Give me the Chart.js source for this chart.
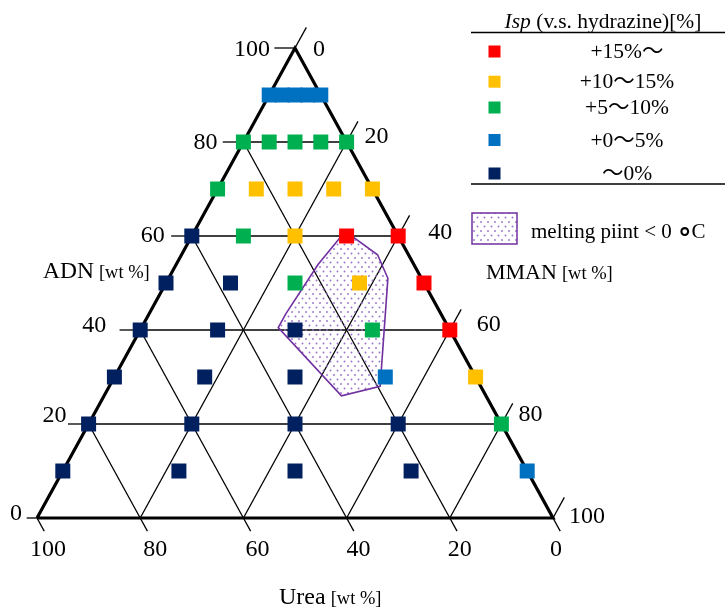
<!DOCTYPE html>
<html><head><meta charset="utf-8">
<script src="https://cdn.jsdelivr.net/npm/chart.js@4/dist/chart.umd.min.js"></script>
<style>html,body{margin:0;padding:0;background:#fff;}canvas{display:block;}</style>
</head><body>
<canvas id="c" width="725" height="610"></canvas>
<script>
// ---- data: compositions as [ADN wt%, MMAN wt%], Urea = 100 - ADN - MMAN ----
const seriesNames = ['+15%～', '+10～15%', '+5～10%', '+0～5%', '～0%'];
const redADN = [60, 60, 50, 40];
const redMMAN = [30, 40, 50, 60];
const yellowADN = [70, 70, 70, 70, 60, 50, 30];
const yellowMMAN = [7.5, 15, 22.5, 30, 20, 37.5, 70];
const greenADN = [80, 80, 80, 80, 80, 70, 60, 50, 40, 20];
const greenMMAN = [0, 5, 10, 15, 20, 0, 10, 25, 45, 80];
const blueADN = [90, 90, 90, 90, 90, 30, 10];
const blueMMAN = [0, 2.5, 5, 7.5, 10, 52.5, 90];
const navyADN = [60, 50, 50, 40, 40, 40, 30, 30, 30, 20, 20, 20, 20, 10, 10, 10, 10];
const navyMMAN = [0, 0, 12.5, 0, 15, 30, 0, 17.5, 35, 0, 20, 40, 60, 0, 22.5, 45, 67.5];
const meltADN = [60, 60, 56, 51, 28, 26, 40.5, 43.5, 54];
const meltMMAN = [29, 31, 38, 42.5, 52.5, 46, 26.5, 26.5, 27.5];
const meltName = 'melting piint < 0 ';
const gridValues = [20, 40, 60, 80];
const adnTickLabels = [0, 20, 40, 60, 80, 100];
const mmanTickLabels = [0, 20, 40, 60, 80, 100];
const ureaTickLabels = [100, 80, 60, 40, 20, 0];

// ---- styles / label layout (pixel nudges of the hand-placed tick labels) ----
const seriesColors = ['#FF0000', '#FFC000', '#00B050', '#0070C0', '#002060'];
const serif = '"Liberation Serif", "Noto Sans CJK JP", serif';
const adnLabelDX = [-15, -22, -34, -27, -26, -25], adnLabelDY = [-4, -8, -4, 0, 1, 2];
const mmanLabelDX = [18, 18, 30, 27, 17, 16], mmanLabelDY = [2, -5, -3, -5, -9, -1];
const ureaLabelDX = [11, 15, 14, 12, 10, 3];

// ternary -> cartesian value space (x = MMAN + ADN/2, y = ADN)
const tern = (a, m) => ({x: m + a / 2, y: a});
const toPoints = (A, M) => A.map((a, i) => tern(a, M[i]));

const lineDs = (pts, w) => ({type: 'scatter', data: pts, showLine: true, borderColor: '#000',
  borderWidth: w, pointRadius: 0, order: 3, fill: false});

const datasets = [];
const seriesA = [redADN, yellowADN, greenADN, blueADN, navyADN];
const seriesM = [redMMAN, yellowMMAN, greenMMAN, blueMMAN, navyMMAN];
seriesNames.forEach((n, i) => datasets.push({
  label: n, data: toPoints(seriesA[i], seriesM[i]), pointStyle: 'rect', pointRadius: 10.6,
  pointBackgroundColor: seriesColors[i], pointBorderWidth: 0, backgroundColor: seriesColors[i], order: 0
}));
const meltPts = toPoints(meltADN, meltMMAN); meltPts.push(meltPts[0]);
datasets.push({label: meltName, data: meltPts, showLine: true, borderColor: '#7030A0', borderWidth: 1.6,
  pointRadius: 0, order: 1, patternFill: true, fill: false});
// grid
gridValues.forEach(v => {
  datasets.push(lineDs([tern(v, 0), tern(v, 100 - v)], 1.3));            // ADN const
  datasets.push(lineDs([tern(0, v), tern(100 - v, v)], 1.3));            // MMAN const
  datasets.push(lineDs([tern(0, 100 - v), tern(100 - v, 0)], 1.3));      // Urea const
});
// ticks
adnTickLabels.forEach(v => datasets.push(lineDs([tern(v, 0), tern(v, v === 0 ? -2 : -4)], 1.3)));
mmanTickLabels.forEach(v => datasets.push(lineDs([tern(100 - v, v), tern(104.4 - v, v)], 1.3)));
ureaTickLabels.forEach(v => datasets.push(lineDs([tern(0, 100 - v), tern(-2.8, 102.8 - v)], 1.3)));
// outer triangle
const outer = lineDs([tern(0, 0), tern(100, 0), tern(0, 100), tern(0, 0)], 3.2);
outer.order = 2;
datasets.push(outer);

function makePattern(ctx) {
  const c = document.createElement('canvas'); c.width = 7; c.height = 9;
  const g = c.getContext('2d');
  g.fillStyle = '#9c74cc';
  g.beginPath(); g.arc(1.5, 1.5, 0.95, 0, 2 * Math.PI); g.fill();
  g.beginPath(); g.arc(5, 6, 0.95, 0, 2 * Math.PI); g.fill();
  return ctx.createPattern(c, 'repeat');
}

const polyPlugin = {
  id: 'polyFill',
  beforeDatasetDraw(chart, args) {
    const ds = chart.data.datasets[args.index];
    if (!ds.patternFill) return;
    const pts = args.meta.data, ctx = chart.ctx;
    ctx.save();
    ctx.beginPath();
    pts.forEach((p, i) => i ? ctx.lineTo(p.x, p.y) : ctx.moveTo(p.x, p.y));
    ctx.closePath();
    ctx.fillStyle = makePattern(ctx);
    ctx.fill();
    ctx.restore();
  }
};

const textPlugin = {
  id: 'texts',
  afterDraw(chart) {
    const ctx = chart.ctx, xs = chart.scales.x, ys = chart.scales.y;
    const P = (a, m) => ({x: xs.getPixelForValue(m + a / 2), y: ys.getPixelForValue(a)});
    ctx.save();
    ctx.fillStyle = '#000';
    ctx.font = '24px ' + serif;
    ctx.textBaseline = 'middle';
    ctx.textAlign = 'right';
    adnTickLabels.forEach((v, i) => { const p = P(v, 0); ctx.fillText(String(v), p.x + adnLabelDX[i], p.y + adnLabelDY[i]); });
    ctx.textAlign = 'left';
    mmanTickLabels.forEach((v, i) => { const p = P(100 - v, v); ctx.fillText(String(v), p.x + mmanLabelDX[i], p.y + mmanLabelDY[i]); });
    ctx.textAlign = 'center';
    ureaTickLabels.forEach((v, i) => { const p = P(0, 100 - v); ctx.fillText(String(v), p.x + ureaLabelDX[i], p.y + 32); });

    // axis titles
    ctx.textAlign = 'left'; ctx.textBaseline = 'alphabetic';
    const title = (main, mainSize, x, y) => {
      ctx.font = mainSize + 'px ' + serif; ctx.fillText(main, x, y);
      const w = ctx.measureText(main).width;
      ctx.font = '18.5px ' + serif; ctx.fillText('[wt %]', x + w + 5, y);
    };
    title('ADN', 23.5, 43, 278);
    title('MMAN', 22, 486, 279);
    title('Urea', 24, 279, 604);

    // legend table
    ctx.strokeStyle = '#000'; ctx.lineWidth = 1.3;
    ctx.beginPath(); ctx.moveTo(471, 32.5); ctx.lineTo(725, 32.5);
    ctx.moveTo(471, 184); ctx.lineTo(725, 184); ctx.stroke();
    const lf = '21.5px ' + serif;
    ctx.font = 'italic ' + lf;
    const w1 = ctx.measureText('Isp').width;
    ctx.font = lf;
    const rest = ' (v.s. hydrazine)[%]';
    const w2 = ctx.measureText(rest).width;
    const x0 = 603 - (w1 + w2) / 2;
    ctx.font = 'italic ' + lf; ctx.fillText('Isp', x0, 28);
    ctx.font = lf; ctx.fillText(rest, x0 + w1, 28);
    const rowY = [51.5, 81.7, 107.5, 140, 173.5];
    ctx.textAlign = 'center'; ctx.textBaseline = 'middle';
    seriesNames.forEach((n, i) => {
      ctx.fillStyle = seriesColors[i];
      ctx.fillRect(488.5, rowY[i] - 6, 12, 12);
      ctx.fillStyle = '#000';
      ctx.fillText(n, 627, rowY[i] + 1);
    });
    // melting legend
    ctx.fillStyle = makePattern(ctx);
    ctx.fillRect(472, 213, 45, 31);
    ctx.strokeStyle = '#7030A0'; ctx.lineWidth = 1.5;
    ctx.strokeRect(472, 213, 45, 31);
    ctx.fillStyle = '#000'; ctx.textAlign = 'left'; ctx.textBaseline = 'alphabetic';
    ctx.font = '21px ' + serif;
    ctx.fillText(meltName, 531, 238);
    let mx = 531 + ctx.measureText(meltName).width + 1;
    ctx.font = 'bold 27px "DejaVu Sans", sans-serif';
    ctx.fillText('°', mx, 247);
    mx += ctx.measureText('°').width;
    ctx.font = '21px ' + serif;
    ctx.fillText('C', mx, 238);
    ctx.restore();
  }
};

new Chart(document.getElementById('c'), {
  type: 'scatter',
  data: {datasets},
  options: {
    responsive: false, animation: false, events: [],
    devicePixelRatio: 1,
    layout: {padding: 0, autoPadding: false},
    plugins: {legend: {display: false}, tooltip: {enabled: false}, title: {display: false}},
    scales: {
      x: {type: 'linear', display: false, min: -37 / 5.16, max: (725 - 37) / 5.16},
      y: {type: 'linear', display: false, min: -92 / 4.7, max: 518 / 4.7}
    }
  },
  plugins: [polyPlugin, textPlugin]
});
</script>
</body></html>
